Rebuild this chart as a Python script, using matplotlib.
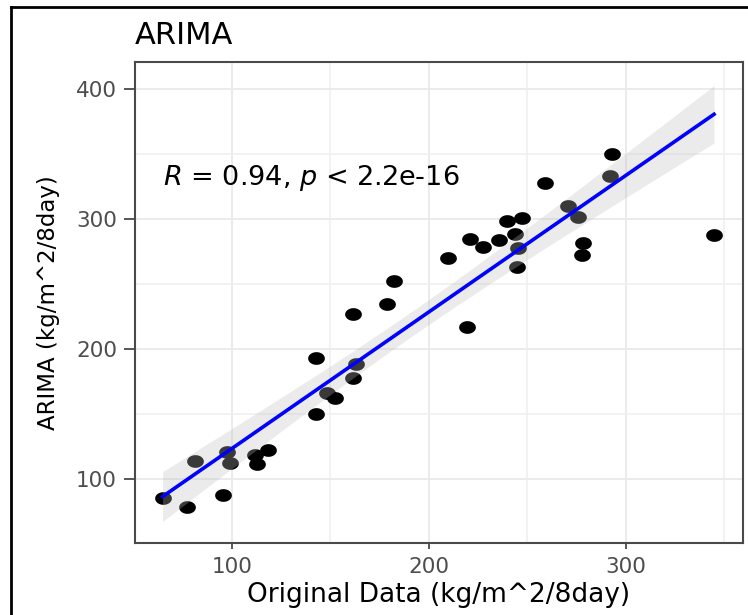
import numpy as np
import matplotlib
matplotlib.use("Agg")
import matplotlib.pyplot as plt
from matplotlib.path import Path
from matplotlib.lines import Line2D

# ---- data ----
original = [64.8, 77.0, 81.2, 95.6, 97.6, 99.0, 111.7, 112.9, 118.1,
            142.6, 142.5, 148.1, 152.3, 161.6, 162.9, 161.6, 178.9, 182.4,
            209.8, 219.1, 220.8, 227.6, 235.5, 239.7, 247.1, 243.7, 245.3, 244.8,
            258.9, 292.7, 291.9, 270.7, 275.8, 278.3, 277.9, 344.7]
arima = [85.6, 78.7, 113.8, 87.7, 121.0, 112.5, 118.5, 111.3, 122.3,
         150.0, 193.0, 165.9, 162.6, 227.4, 188.2, 177.5, 234.6, 252.3,
         269.8, 217.2, 284.4, 278.7, 283.8, 298.5, 301.3, 288.5, 278.2, 263.3,
         328.2, 350.0, 333.3, 310.0, 301.8, 281.8, 272.3, 287.7]
title = "ARIMA"
xlabel = "Original Data (kg/m^2/8day)"
ylabel = "ARIMA (kg/m^2/8day)"
annot = r"$R$ = 0.94, $p$ < 2.2e-16"
xticks = [100, 200, 300]
yticks = [100, 200, 300, 400]
T_CRIT = 2.032  # 95% t quantile, df = 34

x = np.array(original)
y = np.array(arima)

plt.rcParams['font.family'] = ['DejaVu Sans']

fig = plt.figure(figsize=(7.48, 6.15), dpi=100)
W, H = 748, 615
L, R, T, B = 135, 743, 62, 542.7
ax = fig.add_axes([L / W, 1 - B / H, (R - L) / W, (B - T) / H])

# grid
ax.set_xlim(50.8, 359.4)
ax.set_ylim(51, 421)
ax.set_xticks(xticks)
ax.set_yticks(yticks)
ax.set_xticks([150, 250, 350], minor=True)
ax.set_yticks([150, 250, 350], minor=True)
ax.grid(True, which='major', color='#EBEBEB', lw=1.4, zorder=0)
ax.grid(True, which='minor', color='#EFEFEF', lw=1.1, zorder=0)
ax.set_axisbelow(True)

# points (elliptical marker to mimic the stretched reference)
th = np.linspace(0, 2 * np.pi, 60)
ell = Path(np.column_stack([np.cos(th), 0.76 * np.sin(th)]), closed=True)
ax.scatter(x, y, s=145, marker=ell, color='black', linewidths=0, zorder=2)

# linear fit + 95% confidence band
slope, intercept = np.polyfit(x, y, 1)
xs = np.linspace(x.min(), x.max(), 80)
ys = slope * xs + intercept
n = len(x)
resid = y - (slope * x + intercept)
s_err = np.sqrt(np.sum(resid ** 2) / (n - 2))
sxx = np.sum((x - x.mean()) ** 2)
se = s_err * np.sqrt(1 / n + (xs - x.mean()) ** 2 / sxx)
ax.fill_between(xs, ys - T_CRIT * se, ys + T_CRIT * se, color='#BFBFBF',
                alpha=0.3, lw=0, zorder=3)
ax.plot(xs, ys, color='#0000FF', lw=2.6, zorder=4)

# annotation
ax.text(65, 326, annot, fontsize=19.5, color='black', ha='left', va='baseline',
        zorder=5)

# spines / ticks
for sp in ax.spines.values():
    sp.set_color('#4A4A4A')
    sp.set_linewidth(1.5)
ax.tick_params(axis='x', which='major', length=4, width=1.3, color='#4A4A4A',
               labelsize=15.5, labelcolor='#4D4D4D', pad=6)
ax.tick_params(axis='y', which='major', length=8, width=1.3, color='#4A4A4A',
               labelsize=15.5, labelcolor='#4D4D4D', pad=5)
ax.tick_params(which='minor', length=0)

ax.set_xlabel(xlabel, fontsize=19, color='black', va='baseline')
ax.xaxis.set_label_coords(0.5, -0.1234)
ax.set_ylabel(ylabel, fontsize=16.5, color='black', va='center')
ax.yaxis.set_label_coords(-0.143, 0.5)

fig.text(L / W, 1 - 44 / H, title, fontsize=22, color='black', ha='left',
         va='baseline')

# outer frame (left and top edges visible in the reference)
fig.add_artist(Line2D([11 / W, 11 / W], [0, 1 - 7 / H], transform=fig.transFigure,
                      color='black', lw=2))
fig.add_artist(Line2D([11 / W, 1], [1 - 7 / H, 1 - 7 / H], transform=fig.transFigure,
                      color='black', lw=2))

fig.savefig('out.png', dpi=100)
